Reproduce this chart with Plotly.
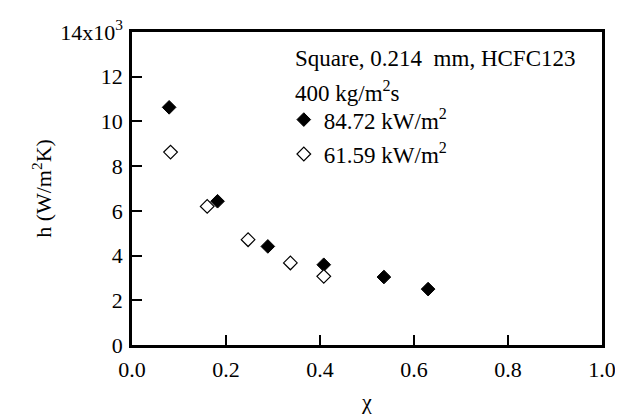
import plotly.graph_objects as go

# data (h in units of 10^3 W/m^2K)
x_high = [0.079, 0.182, 0.289, 0.408, 0.536, 0.630]
h_high = [10.63, 6.43, 4.41, 3.59, 3.04, 2.50]
x_low = [0.082, 0.160, 0.247, 0.337, 0.408]
h_low = [8.63, 6.20, 4.71, 3.67, 3.07]

y_ticks = [0, 2, 4, 6, 8, 10, 12, 14]
y_ticktext = ["0", "2", "4", "6", "8", "10", "12", "14x10<sup>3</sup>"]
x_ticks = [0.0, 0.2, 0.4, 0.6, 0.8, 1.0]
x_ticktext = ["0.0", "0.2", "0.4", "0.6", "0.8", "1.0"]

FONT = "Liberation Serif"
FS = 22
FS_LEG = 23

fig = go.Figure()
fig.add_trace(go.Scatter(
    x=x_high, y=h_high, mode="markers", name="84.72 kW/m<sup>2</sup>",
    marker=dict(symbol="diamond", size=10.5, color="black", line=dict(color="black", width=1)),
    legend="legend", showlegend=True,
))
fig.add_trace(go.Scatter(
    x=x_low, y=h_low, mode="markers", name="61.59 kW/m<sup>2</sup>",
    marker=dict(symbol="diamond", size=10.5, color="white", line=dict(color="black", width=1.2)),
    legend="legend2", showlegend=True,
))

fig.update_layout(
    template="none",
    width=623, height=416,
    margin=dict(l=124, r=29, t=24, b=79),
    paper_bgcolor="white", plot_bgcolor="white",
    showlegend=True,
    font=dict(family=FONT, size=FS, color="black"),
    legend=dict(x=0.323, y=0.72, xanchor="left", yanchor="middle",
                bgcolor="rgba(0,0,0,0)", font=dict(family=FONT, size=FS_LEG)),
    legend2=dict(x=0.323, y=0.61, xanchor="left", yanchor="middle",
                 bgcolor="rgba(0,0,0,0)", font=dict(family=FONT, size=FS_LEG)),
    annotations=[
        dict(text="Square, 0.214\u00a0 mm, HCFC123", x=0.3426, y=0.914, xref="paper", yref="paper",
             xanchor="left", yanchor="middle", showarrow=False, font=dict(family=FONT, size=FS_LEG)),
        dict(text="400 kg/m<sup>2</sup>s", x=0.3426, y=0.81, xref="paper", yref="paper",
             xanchor="left", yanchor="middle", showarrow=False, font=dict(family=FONT, size=FS_LEG)),
    ],
)
fig.update_xaxes(
    range=[0, 1], tickmode="array", tickvals=x_ticks, ticktext=x_ticktext,
    automargin=False,
    showline=True, linecolor="black", linewidth=2.5, mirror=True,
    ticks="inside", ticklen=10, tickwidth=2, tickcolor="black",
    showgrid=False, zeroline=False, ticklabelstandoff=3,
    tickfont_family=FONT, tickfont_size=FS, tickfont_color="black",
    title_text="χ", title_font_family=FONT, title_font_size=FS, title_standoff=13,
)
fig.update_yaxes(
    range=[0, 14], tickmode="array", tickvals=y_ticks, ticktext=y_ticktext,
    automargin=False,
    showline=True, linecolor="black", linewidth=2.5, mirror=True,
    ticks="inside", ticklen=10, tickwidth=2, tickcolor="black",
    showgrid=False, zeroline=False, ticklabelstandoff=2,
    tickfont_family=FONT, tickfont_size=FS, tickfont_color="black",
    title_text="h (W/m<sup>2</sup>K)", title_font_family=FONT, title_font_size=FS, title_standoff=3,
)

fig.write_html("out.html")
